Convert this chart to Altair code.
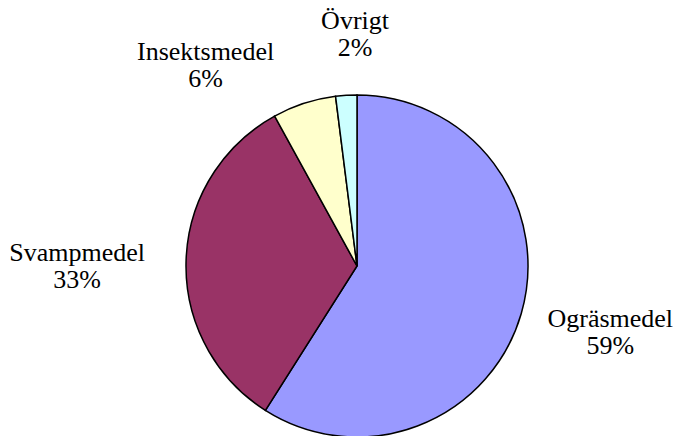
import altair as alt
import pandas as pd

categories = ["Ogräsmedel", "Svampmedel", "Insektsmedel", "Övrigt"]
shares = [59, 33, 6, 2]
colors = ["#9999FF", "#993366", "#FFFFCC", "#CCFFFF"]

total = sum(shares)
df = pd.DataFrame({
    "kategori": categories,
    "andel": shares,
    "ordning": list(range(len(categories))),
    "etikett": [f"{c}\n{v}%" for c, v in zip(categories, shares)],
})

theta_scale = alt.Scale(domain=[0, total])

pie = alt.Chart(df).mark_arc(outerRadius=171, stroke="black", strokeWidth=1.5).encode(
    theta=alt.Theta("andel:Q", stack=True, scale=theta_scale),
    order=alt.Order("ordning:Q", sort="ascending"),
    color=alt.Color("kategori:N", scale=alt.Scale(domain=categories, range=colors), legend=None),
)

# label nudges (pixels) relative to radial position
nudges = {
    "Ogräsmedel": (-6, -22),
    "Svampmedel": (-10, -5),
    "Insektsmedel": (-68, 43),
    "Övrigt": (15, 24),
}

label_base = alt.Chart(df).transform_window(
    cum="sum(andel)", sort=[alt.SortField("ordning")], frame=[None, 0]
).transform_calculate(mid="datum.cum - datum.andel / 2")

labels = []
for c in categories:
    dx, dy = nudges[c]
    labels.append(
        label_base.transform_filter(alt.datum.kategori == c)
        .mark_text(
            radius=270, dx=dx, dy=dy, font="Times New Roman, Liberation Serif, serif", fontSize=26,
            lineHeight=27, lineBreak="\n", align="center", baseline="middle", color="black",
        )
        .encode(theta=alt.Theta("mid:Q", scale=theta_scale), text="etikett:N")
    )

chart = alt.layer(pie, *labels).properties(
    width=400, height=340,
    padding={"left": 149, "top": 88, "right": 118, "bottom": 0},
    autosize="none",
).configure_view(stroke=None)

chart.save("out.html", embed_options={"renderer": "svg", "actions": False})
